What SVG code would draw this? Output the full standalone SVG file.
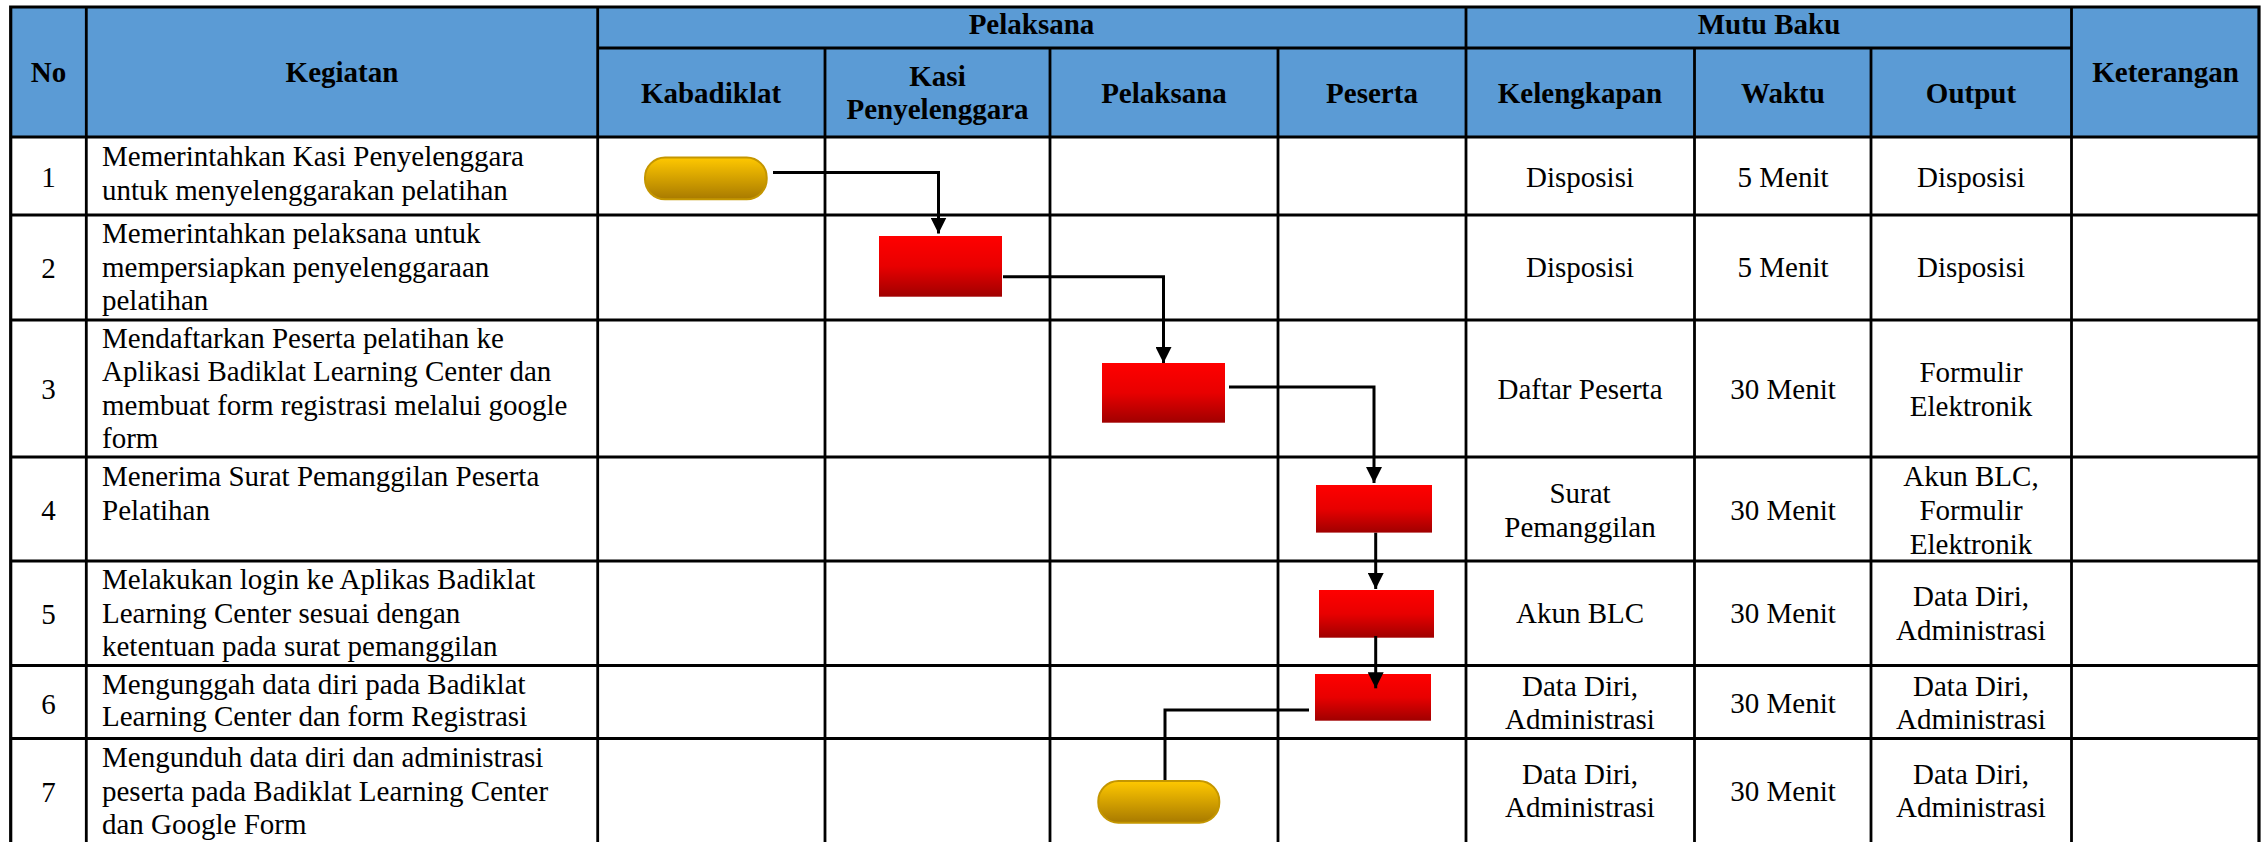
<svg xmlns="http://www.w3.org/2000/svg" width="2268" height="842" viewBox="0 0 2268 842" font-family="'Liberation Serif', 'Times New Roman', serif">
<style>
text{font-family:'Liberation Serif','Times New Roman',serif}
.t{font-size:29px;fill:#000}
.b{font-weight:bold}
.m{text-anchor:middle}
.grid{stroke:#000;stroke-width:2.8;fill:none}
.outer{stroke:#000;stroke-width:3.2;fill:none}
.conn{stroke:#000;stroke-width:3;fill:none}
.term{fill:url(#gold);stroke:#C49600;stroke-width:2}
.proc{fill:url(#red)}
</style>
<defs>
<linearGradient id="gold" x1="0" y1="0" x2="0" y2="1">
<stop offset="0" stop-color="#FFC800"/>
<stop offset="1" stop-color="#A87A00"/>
</linearGradient>
<linearGradient id="red" x1="0" y1="0" x2="0" y2="1">
<stop offset="0" stop-color="#FF0000"/>
<stop offset="0.5" stop-color="#E80000"/>
<stop offset="1" stop-color="#A00000"/>
</linearGradient>
<marker id="arr" markerUnits="userSpaceOnUse" markerWidth="16" markerHeight="16" viewBox="0 0 16 16" refX="8" refY="16" orient="0">
<path d="M0,0 L16,0 L8,16 Z" fill="#000"/>
</marker>
</defs>
<rect x="0" y="0" width="2268" height="842" fill="#fff"/>
<g id="table">
<rect x="10.7" y="7" width="2248.3" height="130" fill="#5B9BD5"/>
<g class="grid">
<path d="M597.7,48 H2071.5"/>
<path d="M10.7,137 H2259 M10.7,215 H2259 M10.7,320 H2259 M10.7,457 H2259 M10.7,561 H2259 M10.7,665.5 H2259 M10.7,738.5 H2259"/>
<path d="M86.3,7 V842 M597.7,7 V842 M1466,7 V842 M2071.5,7 V842"/>
<path d="M825,48 V842 M1050,48 V842 M1278,48 V842 M1694.5,48 V842 M1871,48 V842"/>
</g>
<path class="outer" d="M10.7,845 V7 H2259 V845"/>
</g>
<g id="header" font-family="'Liberation Serif', serif">
<text class="t b m" x="48.5" y="81.5">No</text>
<text class="t b m" x="342" y="81.5">Kegiatan</text>
<text class="t b m" x="1031.5" y="34">Pelaksana</text>
<text class="t b m" x="1769" y="34">Mutu Baku</text>
<text class="t b m" x="2165.5" y="81.5">Keterangan</text>
<text class="t b m" x="711" y="102.5">Kabadiklat</text>
<text class="t b m" x="937.5" y="86">Kasi</text>
<text class="t b m" x="937.5" y="119">Penyelenggara</text>
<text class="t b m" x="1164" y="102.5">Pelaksana</text>
<text class="t b m" x="1372" y="102.5">Peserta</text>
<text class="t b m" x="1580" y="102.5">Kelengkapan</text>
<text class="t b m" x="1783" y="102.5">Waktu</text>
<text class="t b m" x="1971" y="102.5">Output</text>
</g>
<g id="row1">
<text class="t m" x="48.5" y="187">1</text>
<text class="t" x="102" y="166">Memerintahkan Kasi Penyelenggara</text>
<text class="t" x="102" y="199.5">untuk menyelenggarakan pelatihan</text>
<text class="t m" x="1580" y="187">Disposisi</text>
<text class="t m" x="1783" y="187">5 Menit</text>
<text class="t m" x="1971" y="187">Disposisi</text>
</g>
<g id="row2">
<text class="t m" x="48.5" y="278">2</text>
<text class="t" x="102" y="243">Memerintahkan pelaksana untuk</text>
<text class="t" x="102" y="276.5">mempersiapkan penyelenggaraan</text>
<text class="t" x="102" y="310">pelatihan</text>
<text class="t m" x="1580" y="277">Disposisi</text>
<text class="t m" x="1783" y="277">5 Menit</text>
<text class="t m" x="1971" y="277">Disposisi</text>
</g>
<g id="row3">
<text class="t m" x="48.5" y="399">3</text>
<text class="t" x="102" y="348">Mendaftarkan Peserta pelatihan ke</text>
<text class="t" x="102" y="381">Aplikasi Badiklat Learning Center dan</text>
<text class="t" x="102" y="414.5">membuat form registrasi melalui google</text>
<text class="t" x="102" y="447.5">form</text>
<text class="t m" x="1580" y="398.5">Daftar Peserta</text>
<text class="t m" x="1783" y="398.5">30 Menit</text>
<text class="t m" x="1971" y="381.5">Formulir</text>
<text class="t m" x="1971" y="415.5">Elektronik</text>
</g>
<g id="row4">
<text class="t m" x="48.5" y="520">4</text>
<text class="t" x="102" y="486">Menerima Surat Pemanggilan Peserta</text>
<text class="t" x="102" y="519.5">Pelatihan</text>
<text class="t m" x="1580" y="502.5">Surat</text>
<text class="t m" x="1580" y="536.5">Pemanggilan</text>
<text class="t m" x="1783" y="519.5">30 Menit</text>
<text class="t m" x="1971" y="485.5">Akun BLC,</text>
<text class="t m" x="1971" y="519.5">Formulir</text>
<text class="t m" x="1971" y="553.5">Elektronik</text>
</g>
<g id="row5">
<text class="t m" x="48.5" y="624">5</text>
<text class="t" x="102" y="589">Melakukan login ke Aplikas Badiklat</text>
<text class="t" x="102" y="622.5">Learning Center sesuai dengan</text>
<text class="t" x="102" y="656">ketentuan pada surat pemanggilan</text>
<text class="t m" x="1580" y="623">Akun BLC</text>
<text class="t m" x="1783" y="623">30 Menit</text>
<text class="t m" x="1971" y="606">Data Diri,</text>
<text class="t m" x="1971" y="640">Administrasi</text>
</g>
<g id="row6">
<text class="t m" x="48.5" y="714">6</text>
<text class="t" x="102" y="694">Mengunggah data diri pada Badiklat</text>
<text class="t" x="102" y="726">Learning Center dan form Registrasi</text>
<text class="t m" x="1580" y="696">Data Diri,</text>
<text class="t m" x="1580" y="729">Administrasi</text>
<text class="t m" x="1783" y="713">30 Menit</text>
<text class="t m" x="1971" y="696">Data Diri,</text>
<text class="t m" x="1971" y="729">Administrasi</text>
</g>
<g id="row7">
<text class="t m" x="48.5" y="802">7</text>
<text class="t" x="102" y="767">Mengunduh data diri dan administrasi</text>
<text class="t" x="102" y="801">peserta pada Badiklat Learning Center</text>
<text class="t" x="102" y="834">dan Google Form</text>
<text class="t m" x="1580" y="784">Data Diri,</text>
<text class="t m" x="1580" y="817">Administrasi</text>
<text class="t m" x="1783" y="801">30 Menit</text>
<text class="t m" x="1971" y="784">Data Diri,</text>
<text class="t m" x="1971" y="817">Administrasi</text>
</g>
<g id="connectors">
<path class="conn" d="M773,172.5 H938.5 V233.5" marker-end="url(#arr)"/>
<path class="conn" d="M1003,276.7 H1163.5 V363" marker-end="url(#arr)"/>
<path class="conn" d="M1229,387 H1374 V483" marker-end="url(#arr)"/>
<path class="conn" d="M1375.7,532.6 V589" marker-end="url(#arr)"/>
<path class="conn" d="M1309,710 H1165 V781"/>
</g>
<g id="node-start">
<rect class="term" x="645" y="157.5" width="121.7" height="41.8" rx="20" ry="20"/>
</g>
<g id="node-step2">
<rect class="proc" x="879" y="236" width="123" height="60.7"/>
</g>
<g id="node-step3">
<rect class="proc" x="1102" y="363" width="123" height="59.7"/>
</g>
<g id="node-step4">
<rect class="proc" x="1316" y="485" width="116" height="47.6"/>
</g>
<g id="node-step5">
<rect class="proc" x="1319" y="590" width="115" height="47.7"/>
</g>
<g id="node-step6">
<rect class="proc" x="1315" y="674" width="116" height="46.7"/>
</g>
<g id="node-end">
<rect class="term" x="1098.3" y="781" width="121" height="41.7" rx="20" ry="20"/>
</g>
<g id="connector-overlay">
<path d="M1375.7,636 V688.3" class="conn" marker-end="url(#arr)"/>
</g>
</svg>
